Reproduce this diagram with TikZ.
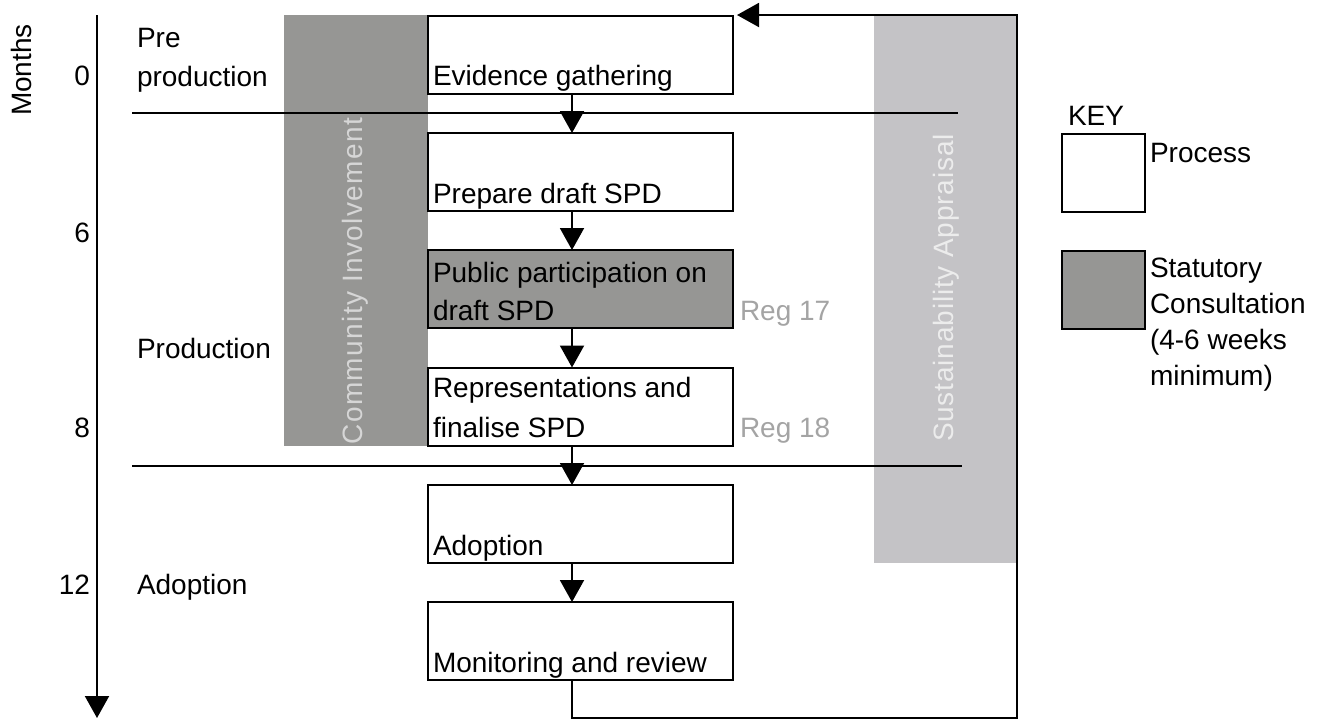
\documentclass[tikz,border=0pt]{standalone}
\usepackage{fontspec}
\setmainfont{Liberation Sans}
\usetikzlibrary{arrows.meta,calc}
\definecolor{darkband}{HTML}{969694}
\definecolor{lightband}{HTML}{C4C3C6}
\definecolor{regtext}{HTML}{A4A4A4}
\definecolor{cibtext}{HTML}{D6D6D6}
\definecolor{sabtext}{HTML}{ECECEC}
\tikzset{
  every node/.style={font=\fontsize{14pt}{19pt}\selectfont, inner sep=0pt, outer sep=0pt},
  procbox/.style={draw=black, line width=1pt, fill=white, minimum width=152.5pt, minimum height=39pt},
  consbox/.style={procbox, fill=darkband},
  keybox/.style={draw=black, line width=1pt, minimum width=41.5pt, minimum height=39pt},
  boxtext/.style={anchor=base west, align=left},
  flow/.style={line width=1pt, -{Triangle[width=12pt,length=11pt]}},
  divider/.style={line width=1pt},
  regnote/.style={anchor=base west, text=regtext},
}
\begin{document}
\begin{tikzpicture}[x=0.5pt,y=-0.5pt]
\useasboundingbox (0,0) rectangle (1323,720);
% bands
\fill[darkband] (284,15) rectangle (428,446);
\fill[lightband] (874,15) rectangle (1017,563);
\node[rotate=90, anchor=base, text=cibtext] (ci) at (362,281) {\addfontfeature{LetterSpace=5}Community Involvement};
\node[rotate=90, anchor=base, text=sabtext] (sa) at (953,288) {\addfontfeature{LetterSpace=3}Sustainability Appraisal};
% dividers
\coordinate (d1a) at (132,113); \coordinate (d1b) at (958,113);
\coordinate (d2a) at (132,466); \coordinate (d2b) at (962,466);
\draw[divider] (d1a) -- (d1b);
\draw[divider] (d2a) -- (d2b);
% timeline
\coordinate (tla) at (97,15); \coordinate (tlb) at (97,718);
\draw[flow] (tla) -- (tlb);
\node[rotate=90, anchor=base] (months) at (32,70) {Months};
\node[anchor=base east] (m0) at (90,85) {0};
\node[anchor=base east] (m6) at (90,242) {6};
\node[anchor=base east] (m8) at (90,437) {8};
\node[anchor=base east] (m12) at (90,594) {12};
\node[boxtext] (lpre) at (137,86) {Pre\\[0.5pt]production};
\node[boxtext] (lprod) at (137,358) {Production};
\node[boxtext] (ladopt) at (137,594) {Adoption};
% process boxes
\node[procbox] (ev) at (580.5,54.5) {};
\node[procbox] (pr) at (580.5,172) {};
\node[consbox] (pp) at (580.5,289) {};
\node[procbox] (rep) at (580.5,406.5) {};
\node[procbox] (ad) at (580.5,524) {};
\node[procbox] (mo) at (580.5,641) {};
\node[boxtext] (evt) at (433,85) {Evidence gathering};
\node[boxtext] (prt) at (433,203) {Prepare draft SPD};
\node[boxtext] (ppt) at (433,320) {Public participation on\\draft SPD};
\node[boxtext] (rept) at (433,437) {Representations and\\[1pt]finalise SPD};
\node[boxtext] (adt) at (433,555) {Adoption};
\node[boxtext] (mot) at (433,672) {Monitoring and review};
\node[regnote] (r17) at (740,320) {Reg 17};
\node[regnote] (r18) at (740,437) {Reg 18};
% flow arrows
\coordinate (ax) at (572,0);
\draw[flow] (ev.south -| ax) -- (pr.north -| ax);
\draw[flow] (pr.south -| ax) -- (pp.north -| ax);
\draw[flow] (pp.south -| ax) -- (rep.north -| ax);
\draw[flow] (rep.south -| ax) -- (ad.north -| ax);
\draw[flow] (ad.south -| ax) -- (mo.north -| ax);
% feedback loop
\coordinate (fbr) at (1017,718);
\coordinate (fbt) at (737,15);
\draw[flow] (mo.south -| ax) |- (fbr) |- (fbt);
% key
\node[anchor=base west] (key) at (1068,125) {KEY};
\node[keybox, fill=white] (kp) at (1103.5,172.5) {};
\node[anchor=base west] (kpt) at (1150,162) {Process};
\node[keybox, fill=darkband] (ks) at (1103.5,289.5) {};
\node[anchor=base west, align=left, font=\fontsize{14pt}{18pt}\selectfont] (kst) at (1150,385) {Statutory\\Consultation\\(4-6 weeks\\minimum)};
\end{tikzpicture}
\end{document}
